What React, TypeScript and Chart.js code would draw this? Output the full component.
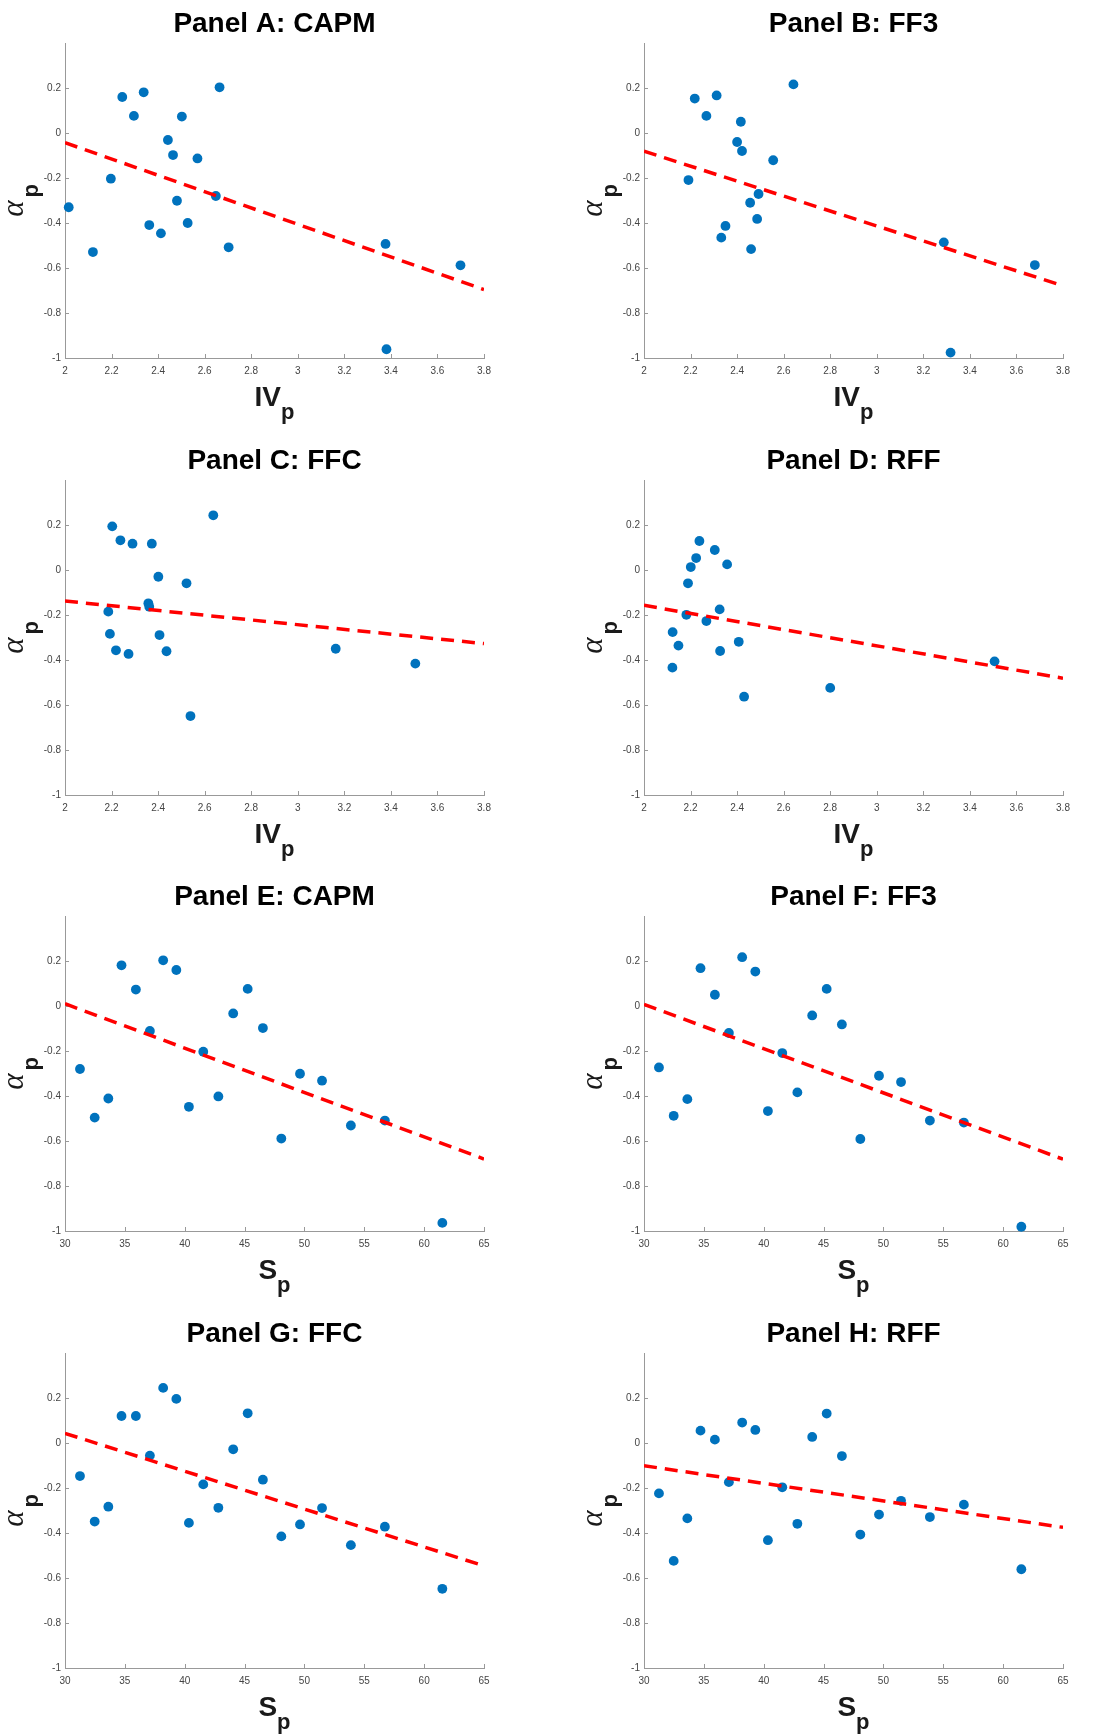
import React, { useEffect, useRef } from "react";
import { Chart, registerables } from "chart.js";

Chart.register(...registerables);

// ---------- tick definitions ----------
const IV_TICKS = [2, 2.2, 2.4, 2.6, 2.8, 3, 3.2, 3.4, 3.6, 3.8];
const IV_TICK_LABELS = ["2", "2.2", "2.4", "2.6", "2.8", "3", "3.2", "3.4", "3.6", "3.8"];
const S_TICKS = [30, 35, 40, 45, 50, 55, 60, 65];
const S_TICK_LABELS = ["30", "35", "40", "45", "50", "55", "60", "65"];
const ALPHA_TICKS = [-1, -0.8, -0.6, -0.4, -0.2, 0, 0.2];
const ALPHA_TICK_LABELS = ["-1", "-0.8", "-0.6", "-0.4", "-0.2", "0", "0.2"];

// ---------- Panel A: CAPM (IV) ----------
const A_IV = [2.016, 2.12, 2.197, 2.246, 2.296, 2.338, 2.362, 2.412, 2.442, 2.464, 2.481, 2.502, 2.527, 2.569, 2.648, 2.664, 2.703, 3.377, 3.381, 3.699];
const A_ALPHA = [-0.33, -0.529, -0.203, 0.16, 0.076, 0.181, -0.409, -0.446, -0.031, -0.098, -0.301, 0.073, -0.4, -0.113, -0.28, 0.203, -0.508, -0.493, -0.961, -0.588];
const A_FIT = [-0.043, -0.696];

// ---------- Panel B: FF3 (IV) ----------
const B_IV = [2.191, 2.218, 2.268, 2.312, 2.332, 2.35, 2.4, 2.416, 2.421, 2.456, 2.46, 2.486, 2.492, 2.555, 2.642, 3.288, 3.317, 3.679];
const B_ALPHA = [-0.209, 0.153, 0.076, 0.167, -0.465, -0.413, -0.04, 0.05, -0.08, -0.31, -0.516, -0.382, -0.271, -0.121, 0.216, -0.486, -0.976, -0.587];
const B_FIT = [-0.081, -0.679];

// ---------- Panel C: FFC (IV) ----------
const C_IV = [2.186, 2.193, 2.203, 2.219, 2.238, 2.273, 2.29, 2.358, 2.362, 2.373, 2.401, 2.406, 2.436, 2.522, 2.539, 2.637, 3.163, 3.505];
const C_ALPHA = [-0.185, -0.284, 0.194, -0.357, 0.132, -0.373, 0.117, -0.148, -0.163, 0.117, -0.03, -0.289, -0.361, -0.059, -0.649, 0.243, -0.35, -0.416];
const C_FIT = [-0.138, -0.327];

// ---------- Panel D: RFF (IV) ----------
const D_IV = [2.122, 2.123, 2.148, 2.182, 2.189, 2.201, 2.224, 2.238, 2.268, 2.304, 2.325, 2.327, 2.357, 2.407, 2.43, 2.8, 3.506];
const D_ALPHA = [-0.434, -0.276, -0.336, -0.199, -0.059, 0.013, 0.053, 0.129, -0.227, 0.089, -0.175, -0.36, 0.025, -0.319, -0.563, -0.524, -0.406];
const D_FIT = [-0.157, -0.481];

// ---------- Panels E-H (S) ----------
const SP = [31.25, 32.48, 33.62, 34.72, 35.92, 37.09, 38.2, 39.3, 40.35, 41.55, 42.81, 44.05, 45.26, 46.53, 48.07, 49.63, 51.47, 53.88, 56.72, 61.52];
const E_ALPHA = [-0.28, -0.496, -0.411, 0.181, 0.073, -0.111, 0.203, 0.16, -0.448, -0.203, -0.402, -0.033, 0.076, -0.098, -0.589, -0.301, -0.332, -0.531, -0.509, -0.964];
const F_ALPHA = [-0.273, -0.488, -0.414, 0.168, 0.05, -0.12, 0.217, 0.153, -0.467, -0.209, -0.384, -0.042, 0.076, -0.082, -0.591, -0.31, -0.338, -0.509, -0.518, -0.981];
const G_ALPHA = [-0.147, -0.349, -0.283, 0.12, 0.12, -0.056, 0.245, 0.196, -0.355, -0.184, -0.288, -0.028, 0.132, -0.163, -0.415, -0.362, -0.289, -0.454, -0.372, -0.648];
const H_ALPHA = [-0.224, -0.524, -0.335, 0.055, 0.015, -0.174, 0.091, 0.058, -0.432, -0.197, -0.359, 0.027, 0.131, -0.058, -0.407, -0.318, -0.257, -0.329, -0.274, -0.561];
const E_FIT = [0.01, -0.68];
const F_FIT = [0.007, -0.681];
const G_FIT = [0.043, -0.546];
const H_FIT = [-0.101, -0.375];

const IV_RANGE = [2, 3.8];
const S_RANGE = [30, 65];
const ALPHA_RANGE = [-1, 0.4];

const TITLES = ["Panel A: CAPM", "Panel B: FF3", "Panel C: FFC", "Panel D: RFF", "Panel E: CAPM", "Panel F: FF3", "Panel G: FFC", "Panel H: RFF"];

// ---------- layout ----------
const PLOT_LEFTS = [65.3, 643.7];
const PLOT_TOPS = [43.3, 479.7, 916.3, 1353.3];
const PLOT_W = 419;
const PLOT_H = 315;
const OFF_L = 65;
const OFF_T = 43;
const CANVAS_W = 510;
const CANVAS_H = 436;

const SANS = '"Liberation Sans", Arial, Helvetica, sans-serif';
const SERIF = '"Liberation Serif", "DejaVu Serif", "Times New Roman", serif';
const BLUE = "#0072BD";
const RED = "#FF0000";
const AXIS = "#999999";
const TICK_TXT = "#444444";

type Panel = {
  title: string;
  xMain: string;
  x: number[];
  y: number[];
  fit: number[];
  xRange: number[];
  xTicks: number[];
  xTickLabels: string[];
  left: number;
  top: number;
};

const PANELS: Panel[] = [
  { title: TITLES[0], xMain: "IV", x: A_IV, y: A_ALPHA, fit: A_FIT, xRange: IV_RANGE, xTicks: IV_TICKS, xTickLabels: IV_TICK_LABELS, left: PLOT_LEFTS[0], top: PLOT_TOPS[0] },
  { title: TITLES[1], xMain: "IV", x: B_IV, y: B_ALPHA, fit: B_FIT, xRange: IV_RANGE, xTicks: IV_TICKS, xTickLabels: IV_TICK_LABELS, left: PLOT_LEFTS[1], top: PLOT_TOPS[0] },
  { title: TITLES[2], xMain: "IV", x: C_IV, y: C_ALPHA, fit: C_FIT, xRange: IV_RANGE, xTicks: IV_TICKS, xTickLabels: IV_TICK_LABELS, left: PLOT_LEFTS[0], top: PLOT_TOPS[1] },
  { title: TITLES[3], xMain: "IV", x: D_IV, y: D_ALPHA, fit: D_FIT, xRange: IV_RANGE, xTicks: IV_TICKS, xTickLabels: IV_TICK_LABELS, left: PLOT_LEFTS[1], top: PLOT_TOPS[1] },
  { title: TITLES[4], xMain: "S", x: SP, y: E_ALPHA, fit: E_FIT, xRange: S_RANGE, xTicks: S_TICKS, xTickLabels: S_TICK_LABELS, left: PLOT_LEFTS[0], top: PLOT_TOPS[2] },
  { title: TITLES[5], xMain: "S", x: SP, y: F_ALPHA, fit: F_FIT, xRange: S_RANGE, xTicks: S_TICKS, xTickLabels: S_TICK_LABELS, left: PLOT_LEFTS[1], top: PLOT_TOPS[2] },
  { title: TITLES[6], xMain: "S", x: SP, y: G_ALPHA, fit: G_FIT, xRange: S_RANGE, xTicks: S_TICKS, xTickLabels: S_TICK_LABELS, left: PLOT_LEFTS[0], top: PLOT_TOPS[3] },
  { title: TITLES[7], xMain: "S", x: SP, y: H_ALPHA, fit: H_FIT, xRange: S_RANGE, xTicks: S_TICKS, xTickLabels: S_TICK_LABELS, left: PLOT_LEFTS[1], top: PLOT_TOPS[3] },
];

function PanelChart({ p }: { p: Panel }) {
  const ref = useRef<HTMLCanvasElement | null>(null);

  useEffect(() => {
    if (!ref.current) return;

    const decor = {
      id: "panelDecor",
      beforeDatasetsDraw(chart: any) {
        const { ctx, chartArea: ca, scales } = chart;
        ctx.save();
        ctx.strokeStyle = AXIS;
        ctx.lineWidth = 1;
        ctx.beginPath();
        p.xTicks.forEach((v) => {
          const px = Math.round(scales.x.getPixelForValue(v)) + 0.5;
          ctx.moveTo(px, ca.bottom);
          ctx.lineTo(px, ca.bottom - 4);
        });
        ALPHA_TICKS.forEach((v) => {
          const py = Math.round(scales.y.getPixelForValue(v)) + 0.5;
          ctx.moveTo(ca.left, py);
          ctx.lineTo(ca.left + 4, py);
        });
        ctx.stroke();
        ctx.restore();
      },
      afterDraw(chart: any) {
        const { ctx, chartArea: ca } = chart;
        const cx = (ca.left + ca.right) / 2;
        const cy = (ca.top + ca.bottom) / 2;
        ctx.save();
        // title
        ctx.fillStyle = "#000000";
        ctx.font = `bold 28px ${SANS}`;
        ctx.textAlign = "center";
        ctx.textBaseline = "alphabetic";
        ctx.fillText(p.title, cx, ca.top - 11);
        // x label with subscript
        ctx.fillStyle = "#1a1a1a";
        ctx.textAlign = "left";
        ctx.font = `bold 28px ${SANS}`;
        const w1 = ctx.measureText(p.xMain).width;
        ctx.font = `bold 22px ${SANS}`;
        const w2 = ctx.measureText("p").width;
        const sx = cx - (w1 + w2) / 2;
        ctx.font = `bold 28px ${SANS}`;
        ctx.fillText(p.xMain, sx, ca.bottom + 47.5);
        ctx.font = `bold 22px ${SANS}`;
        ctx.fillText("p", sx + w1, ca.bottom + 61);
        // y label with subscript
        ctx.translate(ca.left - 42, cy);
        ctx.rotate(-Math.PI / 2);
        ctx.font = `italic 31px ${SERIF}`;
        const wa = ctx.measureText("α").width;
        ctx.font = `bold 22px ${SANS}`;
        const wp = ctx.measureText("p").width;
        const gap = 3;
        const start = -(wa + gap + wp) / 2;
        ctx.font = `italic 31px ${SERIF}`;
        ctx.fillText("α", start, 0);
        ctx.font = `bold 22px ${SANS}`;
        ctx.fillText("p", start + wa + gap, 14.5);
        ctx.restore();
      },
    };

    const chart = new Chart(ref.current, {
      type: "scatter",
      data: {
        datasets: [
          {
            label: "fit",
            data: p.xRange.map((xv, i) => ({ x: xv, y: p.fit[i] })),
            showLine: true,
            borderColor: RED,
            borderWidth: 3.5,
            borderDash: [13, 8],
            pointRadius: 0,
            fill: false,
            order: 0,
          } as any,
          {
            label: "alpha",
            data: p.x.map((xv, i) => ({ x: xv, y: p.y[i] })),
            backgroundColor: BLUE,
            borderWidth: 0,
            pointRadius: 4.9,
            pointHoverRadius: 4.9,
            clip: false,
            order: 1,
          } as any,
        ],
      },
      options: {
        animation: false,
        responsive: false,
        maintainAspectRatio: false,
        devicePixelRatio: 1,
        events: [],
        layout: { padding: { top: OFF_T, left: 0, right: CANVAS_W - OFF_L - PLOT_W, bottom: 0 } },
        plugins: {
          legend: { display: false },
          tooltip: { enabled: false },
          title: { display: false },
        },
        scales: {
          x: {
            type: "linear",
            position: "bottom",
            min: p.xRange[0],
            max: p.xRange[1],
            afterBuildTicks: (s: any) => {
              s.ticks = p.xTicks.map((v) => ({ value: v }));
            },
            afterFit: (s: any) => {
              s.height = CANVAS_H - OFF_T - PLOT_H;
            },
            ticks: {
              callback: (_v: any, i: number) => p.xTickLabels[i],
              font: { size: 10, family: SANS },
              color: TICK_TXT,
              padding: 7,
              maxRotation: 0,
              autoSkip: false,
            },
            grid: { display: false, drawTicks: false },
            border: { display: true, color: AXIS, width: 1 },
          },
          y: {
            type: "linear",
            position: "left",
            min: ALPHA_RANGE[0],
            max: ALPHA_RANGE[1],
            afterBuildTicks: (s: any) => {
              s.ticks = ALPHA_TICKS.map((v) => ({ value: v }));
            },
            afterFit: (s: any) => {
              s.width = OFF_L;
            },
            ticks: {
              callback: (_v: any, i: number) => ALPHA_TICK_LABELS[i],
              font: { size: 10, family: SANS },
              color: TICK_TXT,
              padding: 4,
              autoSkip: false,
            },
            grid: { display: false, drawTicks: false },
            border: { display: true, color: AXIS, width: 1 },
          },
        },
      } as any,
      plugins: [decor],
    });

    return () => chart.destroy();
  }, [p]);

  return (
    <canvas
      ref={ref}
      width={CANVAS_W}
      height={CANVAS_H}
      style={{
        position: "absolute",
        left: p.left - OFF_L,
        top: p.top - OFF_T,
        width: CANVAS_W,
        height: CANVAS_H,
        display: "block",
      }}
    />
  );
}

export default function App() {
  return (
    <div
      style={{
        position: "absolute",
        left: 0,
        top: 0,
        width: 1097,
        height: 1735,
        overflow: "hidden",
        background: "#ffffff",
      }}
    >
      {PANELS.map((p, i) => (
        <PanelChart key={i} p={p} />
      ))}
    </div>
  );
}
